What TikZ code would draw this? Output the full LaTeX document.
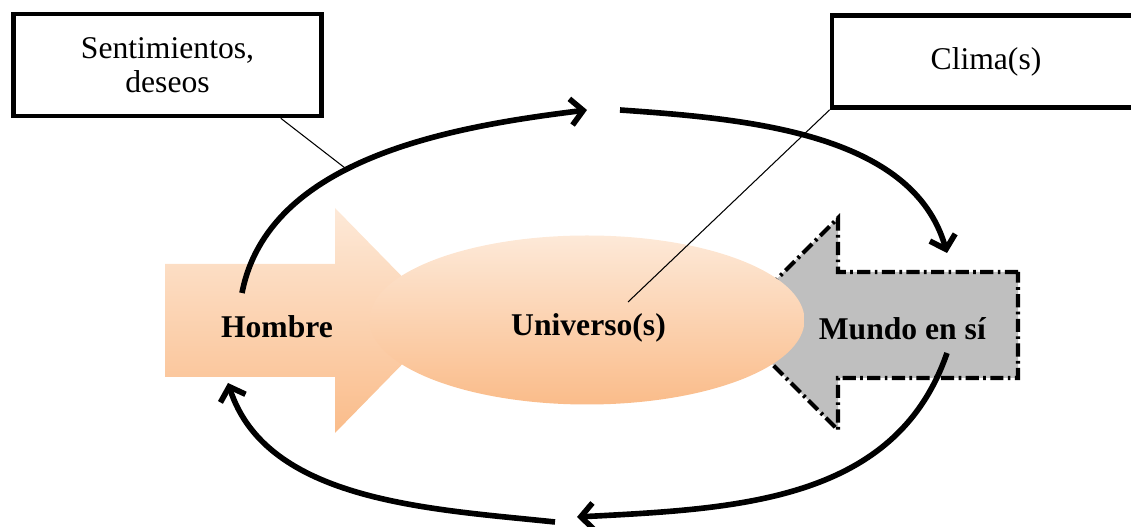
\documentclass[tikz,border=0pt]{standalone}
\usepackage{fontspec}
\setmainfont{Liberation Serif}
\usetikzlibrary{arrows.meta,calc,positioning,shapes.geometric}
\definecolor{pescachiaro}{RGB}{253,233,216}
\definecolor{pescascuro}{RGB}{250,188,138}
\definecolor{grigiomondo}{RGB}{191,191,191}

\begin{document}
\begin{tikzpicture}[font=\fontsize{18}{19}\selectfont, line width=0.6pt,
  riquadro/.style={draw, line width=2.6pt, minimum width=6.16cm, align=center, fill=white},
  ciclo/.style={line width=3.2pt, -{Straight Barb[length=7pt,width=15pt]}},
  pesca/.style={top color=pescachiaro, bottom color=pescascuro, draw=none}]
\useasboundingbox (0,0) rectangle (22.62,10.54);
% freccia dell'uomo
\shade[pesca] (3.3,5.26) -- (6.7,5.26) -- (6.7,6.38) -- (8.9,4.13) -- (6.7,1.88) -- (6.7,3.0) -- (3.3,3.0) -- cycle;
% freccia del mondo in se
\filldraw[fill=grigiomondo, line width=2.3pt, dash pattern=on 7.5pt off 2.5pt on 1.5pt off 2.5pt]
  (20.36,5.1) -- (16.76,5.1) -- (16.76,6.18) -- (14.64,4.06) -- (16.76,1.94) -- (16.76,2.98) -- (20.36,2.98) -- cycle;
\node[ellipse, pesca, minimum width=8.7cm, minimum height=3.38cm] (univ) at (11.74,4.14) {};
\node (univtxt) at (11.77,3.98) {\textbf{Universo(s)}};
\node (hombre) at (5.54,4.0) {\textbf{Hombre}};
\node (mundo) at (18.05,3.96) {\textbf{Mundo en sí}};
\node[riquadro, minimum height=2.04cm] (sent) at (3.35,9.24) {Sentimientos,\\deseos};
\node[riquadro, minimum height=1.84cm] (clima) at (19.72,9.31) {Clima(s)};
% richiami
\coordinate (sentarc) at (6.9,7.18);
\coordinate (climaend) at (12.56,4.5);
\draw ([xshift=-0.86cm]sent.south east) -- (sentarc);
\draw (clima.south west) -- (climaend);
% ciclo
\coordinate (c1) at (4.84,4.68);
\coordinate (c2) at (11.74,8.34);
\coordinate (c3) at (12.4,8.34);
\coordinate (c4) at (18.94,5.48);
\coordinate (c5) at (18.94,3.48);
\coordinate (c6) at (11.54,0.2);
\coordinate (c7) at (11.1,0.1);
\coordinate (c8) at (4.56,2.88);
\draw[ciclo] (c1) to[out=79, in=187, looseness=0.9] (c2);
\draw[ciclo] (c3) to[out=-4, in=106, looseness=0.9] (c4);
\draw[ciclo] (c5) to[out=-109, in=3] (c6);
\draw[ciclo] (c7) to[out=174, in=-72, looseness=0.9] (c8);
\end{tikzpicture}
\end{document}
